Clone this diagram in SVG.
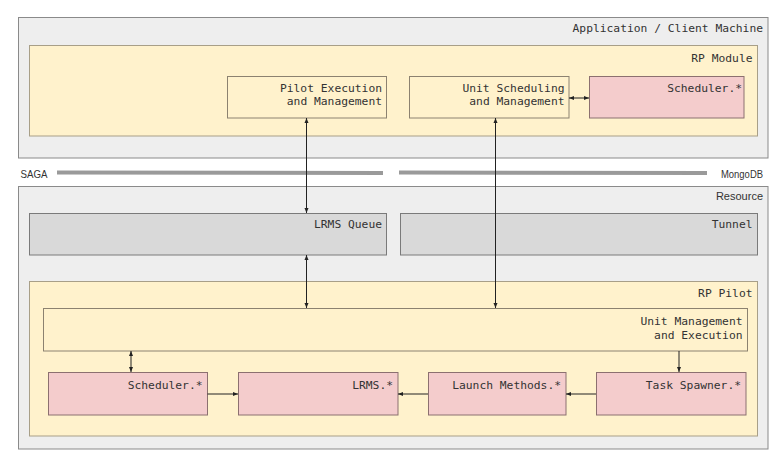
<svg xmlns="http://www.w3.org/2000/svg" width="782" height="463" viewBox="0 0 782 463">
<style>
.outer{fill:#eeeeee;stroke:#8a8a8a;stroke-width:1}
.yel{fill:#fff2cc;stroke:#a89f88;stroke-width:1}
.yelb{fill:#fff2cc;stroke:#8c8270;stroke-width:1}
.pink{fill:#f4cccc;stroke:#8c7070;stroke-width:1}
.gray{fill:#d9d9d9;stroke:#7a7a7a;stroke-width:1}
.t{font-family:"DejaVu Sans Mono","Liberation Mono",monospace;font-size:11.3px;fill:#333;text-anchor:end}
.s{font-family:"Liberation Sans",Arial,sans-serif;font-size:11px;fill:#333}
.bus{stroke:#9a9a9a;stroke-width:4}
.c{stroke:#222;stroke-width:1;fill:none}
</style>
<defs>
<marker id="ah" viewBox="0 0 10 10" refX="10" refY="5" markerWidth="5" markerHeight="5" orient="auto-start-reverse" markerUnits="userSpaceOnUse">
<path d="M0,1 L10,5 L0,9 Z" fill="#222"/>
</marker>
</defs>
<rect width="782" height="463" fill="#ffffff"/>

<g id="client">
<rect class="outer" x="18.5" y="17.5" width="749.5" height="140.5"/>
<text class="t" x="763" y="31.5">Application / Client Machine</text>
</g>
<g id="rp-module">
<rect class="yel" x="29.5" y="45.5" width="728" height="90.5"/>
<text class="t" x="752.5" y="61.5">RP Module</text>
</g>
<g id="pilot-exec">
<rect class="yelb" x="227.5" y="76.5" width="159" height="41.5"/>
<text class="t" x="382" y="91.5">Pilot Execution</text>
<text class="t" x="382" y="105">and Management</text>
</g>
<g id="unit-sched">
<rect class="yelb" x="409.5" y="76.5" width="159.5" height="41.5"/>
<text class="t" x="564.5" y="91.5">Unit Scheduling</text>
<text class="t" x="564.5" y="105">and Management</text>
</g>
<g id="scheduler-top">
<rect class="pink" x="589.5" y="76.5" width="154.5" height="41.5"/>
<text class="t" x="742" y="91.5">Scheduler.*</text>
</g>

<g id="saga">
<text class="s" x="20.5" y="178" textLength="27" lengthAdjust="spacingAndGlyphs" font-size="12.5">SAGA</text>
<line class="bus" x1="57" y1="172.5" x2="383" y2="173"/>
</g>
<g id="mongodb">
<line class="bus" x1="399" y1="172.5" x2="707" y2="173"/>
<text class="s" x="721" y="178" textLength="42" lengthAdjust="spacingAndGlyphs" font-size="12.5">MongoDB</text>
</g>

<g id="resource">
<rect class="outer" x="18.5" y="186.5" width="749.5" height="262.5"/>
<text class="s" x="763" y="200" text-anchor="end">Resource</text>
</g>
<g id="lrms-queue">
<rect class="gray" x="29.5" y="213.5" width="357" height="41.5"/>
<text class="t" x="382" y="228.3">LRMS Queue</text>
</g>
<g id="tunnel">
<rect class="gray" x="400.5" y="213.5" width="357" height="41.5"/>
<text class="t" x="752.5" y="228.3">Tunnel</text>
</g>
<g id="rp-pilot">
<rect class="yel" x="29.5" y="281.5" width="728" height="154.5"/>
<text class="t" x="752.5" y="296.5">RP Pilot</text>
</g>
<g id="unit-mgmt">
<rect class="yelb" x="43.5" y="308.5" width="704" height="42.5"/>
<text class="t" x="742.5" y="324.5">Unit Management</text>
<text class="t" x="742.5" y="338.5">and Execution</text>
</g>
<g id="scheduler-bottom">
<rect class="pink" x="48.5" y="372.5" width="159" height="42.5"/>
<text class="t" x="202.5" y="388.5">Scheduler.*</text>
</g>
<g id="lrms">
<rect class="pink" x="238.5" y="372.5" width="159.5" height="42.5"/>
<text class="t" x="393" y="388.5">LRMS.*</text>
</g>
<g id="launch">
<rect class="pink" x="428.5" y="372.5" width="137.5" height="42.5"/>
<text class="t" x="561" y="388.5">Launch Methods.*</text>
</g>
<g id="spawner">
<rect class="pink" x="596.5" y="372.5" width="149.5" height="42.5"/>
<text class="t" x="741" y="388.5">Task Spawner.*</text>
</g>

<g id="connectors">
<line class="c" x1="306.5" y1="118" x2="306.5" y2="213" marker-start="url(#ah)" marker-end="url(#ah)"/>
<line class="c" x1="306.5" y1="255" x2="306.5" y2="308" marker-start="url(#ah)" marker-end="url(#ah)"/>
<line class="c" x1="495.5" y1="118" x2="495.5" y2="308" marker-start="url(#ah)" marker-end="url(#ah)"/>
<line class="c" x1="569" y1="98" x2="589" y2="98" marker-start="url(#ah)" marker-end="url(#ah)"/>
<line class="c" x1="131" y1="351" x2="131" y2="372" marker-start="url(#ah)" marker-end="url(#ah)"/>
<line class="c" x1="207.5" y1="394" x2="238" y2="394" marker-end="url(#ah)"/>
<line class="c" x1="428" y1="394" x2="398" y2="394" marker-end="url(#ah)"/>
<line class="c" x1="596" y1="394" x2="566" y2="394" marker-end="url(#ah)"/>
<line class="c" x1="679" y1="351" x2="679" y2="372" marker-end="url(#ah)"/>
</g>
</svg>
